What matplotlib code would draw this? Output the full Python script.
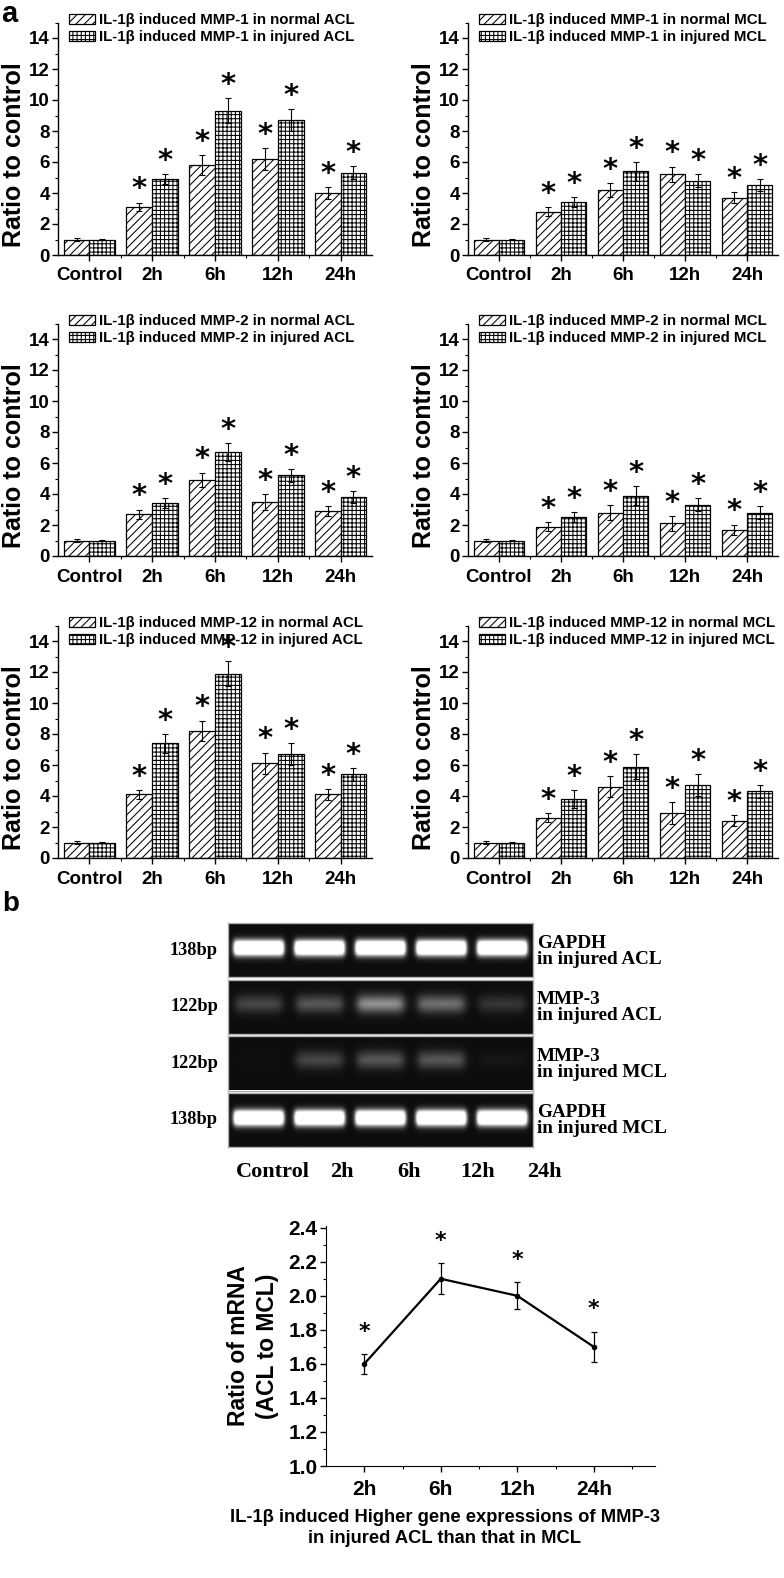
import numpy as np
import matplotlib
matplotlib.use('Agg')
import matplotlib.pyplot as plt
from matplotlib.ticker import MultipleLocator, FixedLocator

plt.rcParams['font.family'] = ['Liberation Sans', 'DejaVu Sans']
plt.rcParams['font.weight'] = 'bold'
plt.rcParams['hatch.linewidth'] = 0.75

# ---------------- data ----------------
categories = ['Control', '2h', '6h', '12h', '24h']

mmp1_acl_normal = [1.0, 3.1, 5.8, 6.2, 4.0]
mmp1_acl_normal_err = [0.08, 0.28, 0.65, 0.7, 0.38]
mmp1_acl_injured = [1.0, 4.9, 9.3, 8.7, 5.3]
mmp1_acl_injured_err = [0.06, 0.3, 0.8, 0.7, 0.42]

mmp1_mcl_normal = [1.0, 2.8, 4.2, 5.2, 3.7]
mmp1_mcl_normal_err = [0.08, 0.3, 0.45, 0.5, 0.35]
mmp1_mcl_injured = [1.0, 3.4, 5.4, 4.8, 4.5]
mmp1_mcl_injured_err = [0.06, 0.32, 0.6, 0.4, 0.4]

mmp2_acl_normal = [1.0, 2.7, 4.9, 3.5, 2.9]
mmp2_acl_normal_err = [0.08, 0.3, 0.48, 0.5, 0.33]
mmp2_acl_injured = [1.0, 3.4, 6.7, 5.2, 3.8]
mmp2_acl_injured_err = [0.06, 0.32, 0.6, 0.42, 0.4]

mmp2_mcl_normal = [1.0, 1.9, 2.8, 2.1, 1.7]
mmp2_mcl_normal_err = [0.08, 0.3, 0.48, 0.5, 0.33]
mmp2_mcl_injured = [1.0, 2.5, 3.9, 3.3, 2.8]
mmp2_mcl_injured_err = [0.06, 0.32, 0.6, 0.42, 0.4]

mmp12_acl_normal = [1.0, 4.1, 8.2, 6.1, 4.1]
mmp12_acl_normal_err = [0.08, 0.3, 0.67, 0.7, 0.35]
mmp12_acl_injured = [1.0, 7.4, 11.9, 6.7, 5.4]
mmp12_acl_injured_err = [0.06, 0.6, 0.8, 0.7, 0.4]

mmp12_mcl_normal = [1.0, 2.6, 4.6, 2.9, 2.4]
mmp12_mcl_normal_err = [0.08, 0.3, 0.67, 0.7, 0.35]
mmp12_mcl_injured = [1.0, 3.8, 5.9, 4.7, 4.3]
mmp12_mcl_injured_err = [0.06, 0.6, 0.8, 0.7, 0.4]

# gel band intensities (relative), lanes = categories
gel_gapdh_acl = [1.0, 1.0, 1.0, 1.0, 1.0]
gel_mmp3_acl = [0.35, 0.45, 0.8, 0.6, 0.25]
gel_mmp3_mcl = [0.02, 0.35, 0.45, 0.45, 0.06]
gel_gapdh_mcl = [1.0, 1.0, 1.0, 1.0, 1.0]
gel_sizes = ['138bp', '122bp', '122bp', '138bp']
gel_names = ['GAPDH\nin injured ACL', 'MMP-3\nin injured ACL',
             'MMP-3\nin injured MCL', 'GAPDH\nin injured MCL']

line_labels = ['2h', '6h', '12h', '24h']
ratio_mrna = [1.6, 2.1, 2.0, 1.7]
ratio_mrna_err = [0.06, 0.09, 0.08, 0.09]

# ---------------- figure ----------------
W, H = 784, 1578
fig = plt.figure(figsize=(W / 100, H / 100), dpi=100)


def rect(l, t, r, b):
    return [l / W, 1 - b / H, (r - l) / W, (b - t) / H]


panels = [
    (mmp1_acl_normal, mmp1_acl_normal_err, mmp1_acl_injured, mmp1_acl_injured_err, 'MMP-1', 'ACL', 0, 0),
    (mmp1_mcl_normal, mmp1_mcl_normal_err, mmp1_mcl_injured, mmp1_mcl_injured_err, 'MMP-1', 'MCL', 1, 0),
    (mmp2_acl_normal, mmp2_acl_normal_err, mmp2_acl_injured, mmp2_acl_injured_err, 'MMP-2', 'ACL', 0, 1),
    (mmp2_mcl_normal, mmp2_mcl_normal_err, mmp2_mcl_injured, mmp2_mcl_injured_err, 'MMP-2', 'MCL', 1, 1),
    (mmp12_acl_normal, mmp12_acl_normal_err, mmp12_acl_injured, mmp12_acl_injured_err, 'MMP-12', 'ACL', 0, 2),
    (mmp12_mcl_normal, mmp12_mcl_normal_err, mmp12_mcl_injured, mmp12_mcl_injured_err, 'MMP-12', 'MCL', 1, 2),
]

PX_PER_UNIT = 15.5
row_base = [255, 556, 858]
col_x = [(58, 372), (468, 778)]
bw = 0.41

for normal, nerr, injured, ierr, mmp, lig, col, row in panels:
    l, r = col_x[col]
    b = row_base[row]
    t = b - 15 * PX_PER_UNIT
    ax = fig.add_axes(rect(l, t, r, b))
    x = np.arange(1, len(categories) + 1)
    ax.bar(x - bw / 2, normal, bw, color='white', edgecolor='black', hatch='////',
           linewidth=0.9, label=f'IL-1\u03b2 induced {mmp} in normal {lig}')
    ax.bar(x + bw / 2, injured, bw, color='white', edgecolor='black', hatch='++++',
           linewidth=0.9, label=f'IL-1\u03b2 induced {mmp} in injured {lig}')
    ax.errorbar(x - bw / 2, normal, yerr=nerr, fmt='none', ecolor='black',
                elinewidth=0.8, capsize=2, capthick=0.8)
    ax.errorbar(x + bw / 2, injured, yerr=ierr, fmt='none', ecolor='black',
                elinewidth=0.8, capsize=2, capthick=0.8)
    for i in range(1, len(categories)):
        ax.text(x[i] - bw / 2, normal[i] + nerr[i] + 0.85, '*', ha='center', va='center',
                fontsize=21, family='DejaVu Sans', fontweight='bold')
        ax.text(x[i] + bw / 2, injured[i] + ierr[i] + 0.85, '*', ha='center', va='center',
                fontsize=21, family='DejaVu Sans', fontweight='bold')
    ax.set_xlim(0.5, 5.5)
    ax.set_ylim(0, 15)
    for s in ('top', 'right'):
        ax.spines[s].set_visible(False)
    for s in ('left', 'bottom'):
        ax.spines[s].set_linewidth(1.0)
    ax.set_xticks(x)
    ax.set_xticklabels(categories)
    ax.xaxis.set_minor_locator(FixedLocator([1.5, 2.5, 3.5, 4.5]))
    ax.yaxis.set_major_locator(MultipleLocator(2))
    ax.yaxis.set_minor_locator(MultipleLocator(1))
    ax.tick_params(which='major', direction='out', length=4, width=1, labelsize=13.5, pad=2)
    ax.tick_params(axis='x', which='major', pad=5)
    ax.tick_params(which='minor', direction='out', length=2, width=0.8)
    for lab in ax.get_xticklabels() + ax.get_yticklabels():
        lab.set_fontweight('bold')
    ax.set_ylabel('Ratio to control', fontsize=18, fontweight='bold')
    ax.yaxis.set_label_coords(-0.102, 0.43)
    ax.legend(loc='upper left', bbox_to_anchor=(0.035, 1.04), frameon=False,
              prop={'size': 10.8, 'weight': 'bold'}, handlelength=1.75, handleheight=0.6,
              handletextpad=0.25, labelspacing=0.2, borderpad=0, borderaxespad=0)

# ---------------- gel ----------------
gel_rows = [gel_gapdh_acl, gel_mmp3_acl, gel_mmp3_mcl, gel_gapdh_mcl]
gel_top, gel_bot, gel_l, gel_r = 923, 1147, 228, 533
gap = 2
sh = (gel_bot - gel_top - 3 * gap) / 4
nx, ny = 400, 70
gx = np.linspace(0.5, 5.5, nx)
gy = np.linspace(0, 1, ny)
for k, vals in enumerate(gel_rows):
    t = gel_top + k * (sh + gap)
    ax = fig.add_axes(rect(gel_l, t, gel_r, t + sh))
    is_gapdh = k in (0, 3)
    img = np.full((ny, nx), 0.05)
    for i, v in enumerate(vals):
        cx = i + 1
        if is_gapdh:
            hx = 1 / (1 + np.exp((np.abs(gx - cx) - 0.41) / 0.02))
            hy = 1 / (1 + np.exp((np.abs(gy - 0.47) - 0.13) / 0.035))
            amp = 1.5
        else:
            hx = 1 / (1 + np.exp((np.abs(gx - cx) - 0.38) / 0.04))
            hy = 1 / (1 + np.exp((np.abs(gy - 0.45) - 0.12) / 0.06))
            amp = 0.75
        img += v * amp * np.outer(hy, hx)
    ax.imshow(np.clip(img, 0, 1), cmap='gray', vmin=0, vmax=1, aspect='auto',
              extent=(0.5, 5.5, 0, 1), interpolation='bilinear')
    ax.set_xticks([])
    ax.set_yticks([])
    for s in ax.spines.values():
        s.set_color('#b0b0b0')
        s.set_linewidth(1)
    cy = t + sh / 2
    fig.text(218 / W, 1 - cy / H, gel_sizes[k], ha='right', va='center',
             family='Liberation Serif', fontweight='bold', fontsize=13.2)
    fig.text(537 / W, 1 - (cy + 1) / H, gel_names[k], ha='left', va='center',
             family='Liberation Serif', fontweight='bold', fontsize=13.8, linespacing=0.92)

gel_label_x = [273, 342, 409, 478, 544]
for lab, px in zip(categories, gel_label_x):
    fig.text(px / W, 1 - 1172 / H, lab, ha='center', va='center',
             family='Liberation Serif', fontweight='bold', fontsize=16)

# ---------------- line chart ----------------
ax = fig.add_axes(rect(326, 1226, 655, 1466))
lx = np.arange(1, len(line_labels) + 1)
ax.errorbar(lx, ratio_mrna, yerr=ratio_mrna_err, fmt='-o', color='black', lw=1.6,
            ms=3, capsize=2.5, elinewidth=0.9, capthick=0.9)
for xi, v, e in zip(lx, ratio_mrna, ratio_mrna_err):
    ax.text(xi, v + e + 0.13, '*', ha='center', va='center', fontsize=16,
            family='DejaVu Sans', fontweight='bold')
ax.set_xlim(0.5, 4.8)
ax.set_ylim(1.0, 2.41)
for s in ('top', 'right'):
    ax.spines[s].set_visible(False)
ax.set_xticks(lx)
ax.set_xticklabels(line_labels)
ax.xaxis.set_minor_locator(FixedLocator([1.5, 2.5, 3.5, 4.5]))
ax.yaxis.set_major_locator(MultipleLocator(0.2))
ax.yaxis.set_minor_locator(MultipleLocator(0.1))
ax.yaxis.set_major_formatter(matplotlib.ticker.FormatStrFormatter('%.1f'))
ax.tick_params(which='major', direction='out', length=4, width=1, labelsize=15, pad=2)
ax.tick_params(axis='x', which='major', pad=6)
ax.tick_params(which='minor', direction='out', length=2, width=0.8)
for lab in ax.get_xticklabels() + ax.get_yticklabels():
    lab.set_fontweight('bold')
ax.set_ylabel('Ratio of mRNA\n(ACL to MCL)', fontsize=16.5, fontweight='bold',
              linespacing=1.3, labelpad=7)
fig.text(445 / W, 1 - 1528 / H,
         'IL-1\u03b2 induced Higher gene expressions of MMP-3\nin injured ACL than that in MCL',
         ha='center', va='center', fontsize=13.2, fontweight='bold', linespacing=1.25)

# panel letters
fig.text(1 / W, 1 - 0 / H, 'a', ha='left', va='top', fontsize=21, fontweight='bold')
fig.text(2 / W, 1 - 891 / H, 'b', ha='left', va='top', fontsize=20, fontweight='bold')

fig.savefig('out.png', dpi=100)
